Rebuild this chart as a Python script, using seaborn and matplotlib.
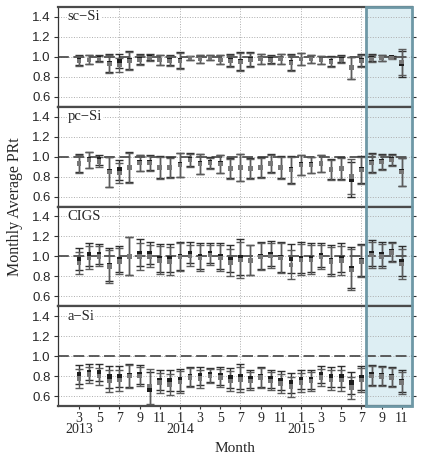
import numpy as np
import pandas as pd
import matplotlib
matplotlib.use("Agg")
import matplotlib.pyplot as plt
import matplotlib.transforms as mtransforms
from matplotlib.patches import Rectangle
import seaborn as sns

# ============================================================================
# Data (month index: 1 = Jan 2013, ... 35 = Nov 2015)
# ============================================================================
months = np.arange(3, 36)

scsi_dark = [0.97, 0.97, 0.99, 0.94, 0.96, 0.97, 0.98, 1.00, 0.97, 0.97, 0.97,
             0.99, 0.98, 0.99, 0.97, 0.97, 0.96, 0.98, 0.98, 0.98, 0.98, 0.95,
             0.98, 0.98, 0.97, 0.96, 0.98, 0.89, 0.97, 0.99, 0.99, 1.00, 0.93]
scsi_light = [0.96, 0.97, 0.98, 0.93, 0.92, 0.96, 0.97, 0.99, 0.97, 0.96, 0.96,
              0.99, 0.98, 0.99, 0.97, 0.96, 0.95, 0.97, 0.98, 0.97, 0.98, 0.94,
              0.98, 0.98, 0.97, 0.95, 0.97, 0.89, 0.96, 0.98, 0.99, 0.99, 0.95]
scsi_err = [0.05, 0.045, 0.03, 0.09, 0.07, 0.09, 0.05, 0.03, 0.05, 0.05, 0.08,
            0.02, 0.04, 0.025, 0.045, 0.06, 0.09, 0.07, 0.05, 0.04, 0.05, 0.08,
            0.06, 0.04, 0.04, 0.05, 0.035, 0.11, 0.06, 0.035, 0.03, 0.01, 0.13]

pcsi_dark = [0.935, 0.97, 0.97, 0.85, 0.87, 0.895, 0.94, 0.94, 0.895, 0.895, 0.92,
             0.97, 0.93, 0.94, 0.93, 0.885, 0.895, 0.885, 0.895, 0.935, 0.895, 0.87,
             0.92, 0.92, 0.935, 0.875, 0.885, 0.77, 0.87, 0.94, 0.95, 0.97, 0.85]
pcsi_light = [0.93, 0.965, 0.95, 0.845, 0.835, 0.89, 0.935, 0.935, 0.89, 0.89, 0.915,
              0.965, 0.925, 0.935, 0.925, 0.88, 0.89, 0.88, 0.89, 0.93, 0.89, 0.865,
              0.915, 0.915, 0.93, 0.87, 0.88, 0.80, 0.865, 0.935, 0.945, 0.965, 0.845]
pcsi_err = [0.09, 0.08, 0.05, 0.15, 0.10, 0.15, 0.08, 0.075, 0.11, 0.10, 0.12,
            0.065, 0.10, 0.055, 0.09, 0.10, 0.135, 0.10, 0.10, 0.09, 0.11, 0.135,
            0.10, 0.08, 0.085, 0.10, 0.11, 0.175, 0.135, 0.095, 0.075, 0.055, 0.14]

cigs_dark = [0.975, 1.02, 1.025, 0.915, 0.975, 1.005, 1.035, 1.035, 0.985, 0.985, 1.00,
             1.035, 1.005, 1.035, 1.005, 0.975, 0.99, 0.965, 1.005, 1.025, 0.995, 0.975,
             0.985, 0.985, 1.015, 0.965, 0.985, 0.885, 0.965, 1.035, 1.025, 1.05, 0.95]
cigs_light = [0.935, 0.985, 1.00, 0.90, 0.95, 1.00, 1.00, 1.00, 0.96, 0.95, 0.995,
              1.005, 0.985, 1.015, 0.985, 0.94, 0.965, 0.96, 0.995, 1.005, 0.985, 0.915,
              0.965, 0.965, 0.995, 0.95, 0.96, 0.865, 0.95, 1.015, 1.00, 1.04, 0.925]
cigs_err = [0.11, 0.115, 0.10, 0.165, 0.13, 0.19, 0.135, 0.11, 0.14, 0.14, 0.14,
            0.105, 0.13, 0.10, 0.13, 0.135, 0.18, 0.15, 0.135, 0.125, 0.15, 0.145,
            0.155, 0.145, 0.12, 0.145, 0.145, 0.205, 0.16, 0.13, 0.12, 0.095, 0.15]

asi_dark = [0.815, 0.84, 0.84, 0.795, 0.80, 0.81, 0.815, 0.665, 0.76, 0.76, 0.765,
            0.80, 0.805, 0.815, 0.805, 0.785, 0.795, 0.775, 0.795, 0.775, 0.76, 0.735,
            0.765, 0.765, 0.815, 0.795, 0.795, 0.735, 0.785, 0.815, 0.81, 0.795, 0.75]
asi_light = [0.775, 0.815, 0.80, 0.75, 0.76, 0.80, 0.80, 0.70, 0.735, 0.715, 0.74,
             0.785, 0.775, 0.80, 0.785, 0.75, 0.765, 0.75, 0.785, 0.75, 0.725, 0.695,
             0.735, 0.75, 0.785, 0.76, 0.76, 0.685, 0.76, 0.80, 0.795, 0.785, 0.735]
asi_err = [0.095, 0.08, 0.085, 0.11, 0.105, 0.115, 0.095, 0.175, 0.10, 0.105, 0.11,
           0.095, 0.09, 0.07, 0.09, 0.10, 0.125, 0.09, 0.10, 0.09, 0.095, 0.10,
           0.095, 0.095, 0.085, 0.10, 0.105, 0.11, 0.12, 0.10, 0.095, 0.095, 0.11]

panel_names = ["sc\u2212Si", "pc\u2212Si", "CIGS", "a\u2212Si"]
panel_data = [
    (scsi_dark, scsi_light, scsi_err),
    (pcsi_dark, pcsi_light, pcsi_err),
    (cigs_dark, cigs_light, cigs_err),
    (asi_dark, asi_light, asi_err),
]

# ============================================================================
# Style
# ============================================================================
DARK = "#1e1e1e"
DARK_BAR = "#2e2e2e"
LIGHT = "#777777"
LIGHT_BAR = "#5c5c5c"
BOX_FACE = "#ddeef3"
BOX_EDGE = "#6e98a6"
FRAME = "#4a4a4a"
GRID = "#adadad"
SERIF = ["Liberation Serif", "DejaVu Serif"]
SANS = ["Liberation Sans", "DejaVu Sans"]

sns.set_theme(style="ticks")
plt.rcParams["font.family"] = SANS

fig, axes = plt.subplots(4, 1, figsize=(4.22, 4.62), dpi=100, sharex=True)
fig.subplots_adjust(left=0.137, right=0.976, top=0.985, bottom=0.121, hspace=0)

tick_pos = list(range(3, 36, 2))
tick_lab = []
for m in tick_pos:
    mm = (m - 1) % 12 + 1
    yr = 2013 + (m - 1) // 12
    if m in (3, 13, 25):
        tick_lab.append(f"{mm}\n{yr}")
    else:
        tick_lab.append(f"{mm}")

for ax, name, (dark, light, err) in zip(axes, panel_names, panel_data):
    ax.xaxis.remove_overlapping_locs = False
    ax.axvspan(31.5, 36, facecolor=BOX_FACE, lw=0, zorder=0)
    ax.set_xticks([7, 13, 19, 25, 31], minor=True)
    ax.xaxis.grid(True, which="minor", ls=":", color=GRID, lw=0.7)
    ax.xaxis.grid(False, which="major")
    ax.yaxis.grid(True, which="major", ls=":", color=GRID, lw=0.7)
    ax.axhline(1.0, ls=(0, (6, 2.5)), color="#505050", lw=1.3, zorder=1)

    ax.errorbar(months, dark, yerr=err, fmt="none", ecolor=DARK_BAR,
                elinewidth=1.0, capsize=2.6, capthick=1.0, zorder=2)
    ax.errorbar(months, light, yerr=err, fmt="none", ecolor=LIGHT_BAR,
                elinewidth=1.0, capsize=2.6, capthick=1.0, zorder=3)

    df = pd.DataFrame({
        "month": np.concatenate([months, months]),
        "prt": np.concatenate([dark, light]),
        "series": ["dark"] * len(months) + ["light"] * len(months),
    })
    sns.scatterplot(data=df, x="month", y="prt", hue="series",
                    palette={"light": LIGHT, "dark": DARK}, marker="s", s=11,
                    linewidth=0, legend=False, ax=ax, zorder=4)

    ax.set_xlim(0.9, 36)
    ax.set_ylim(0.5, 1.5)
    ax.set_yticks([0.6, 0.8, 1.0, 1.2, 1.4])
    ax.set_yticklabels(["0.6", "0.8", "1.0", "1.2", "1.4"], fontsize=9.5)
    ax.tick_params(axis="y", which="major", direction="out", length=3,
                   width=0.8, color="#333333", right=True, pad=2)
    ax.tick_params(axis="x", which="minor", length=0)
    ax.set_xlabel("")
    ax.set_ylabel("")

    ax.text(0.028, 0.9, name, transform=ax.transAxes, family=SERIF,
            fontsize=10.5, va="center", ha="left", zorder=5,
            bbox=dict(facecolor="white", edgecolor="none", pad=0.6))

    for side in ("top", "bottom"):
        ax.spines[side].set_color(FRAME)
        ax.spines[side].set_linewidth(1.6)
    ax.spines["left"].set_color("#333333")
    ax.spines["left"].set_linewidth(0.9)
    ax.spines["right"].set_visible(False)

bottom = axes[-1]
bottom.set_xticks(tick_pos)
bottom.set_xticklabels(tick_lab, family=SERIF, fontsize=10, linespacing=0.85)
bottom.tick_params(axis="x", which="major", direction="out", length=2,
                   width=0.8, color="#333333", pad=2)
bottom.set_xlabel("Month", family=SERIF, fontsize=11, labelpad=4)

# highlighted period outline, spanning all four panels
trans = mtransforms.blended_transform_factory(bottom.transData, fig.transFigure)
y0 = bottom.get_position().y0
y1 = axes[0].get_position().y1
fig.add_artist(Rectangle((31.5, y0), 36 - 31.5, y1 - y0, transform=trans,
                         facecolor="none", edgecolor=BOX_EDGE, lw=2.0,
                         zorder=10, clip_on=False))

fig.text(0.036, (y0 + y1) / 2, "Monthly Average PRt", rotation=90,
         family=SERIF, fontsize=11.5, ha="center", va="center")

fig.savefig("out.png", dpi=100)
